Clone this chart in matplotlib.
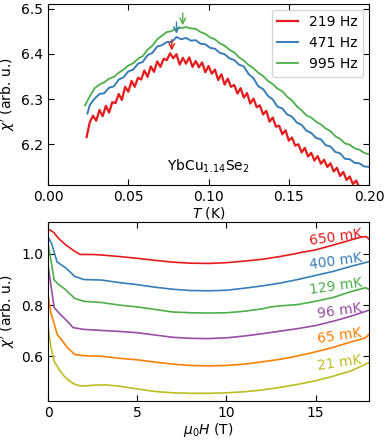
import matplotlib

matplotlib.use("Agg")
import matplotlib.pyplot as plt

# top panel: chi' vs T for three frequencies
t_red = [0.024, 0.026, 0.028, 0.030, 0.032, 0.034, 0.036, 0.038, 0.040, 0.042,
         0.044, 0.046, 0.048, 0.050, 0.052, 0.054, 0.056, 0.058, 0.060, 0.062,
         0.064, 0.066, 0.068, 0.070, 0.072, 0.074, 0.076, 0.078, 0.080, 0.082,
         0.084, 0.086, 0.088, 0.090, 0.092, 0.094, 0.096, 0.098, 0.100, 0.102,
         0.104, 0.106, 0.108, 0.110, 0.112, 0.114, 0.116, 0.118, 0.120, 0.122,
         0.124, 0.126, 0.128, 0.130, 0.132, 0.134, 0.136, 0.138, 0.140, 0.142,
         0.144, 0.146, 0.148, 0.150, 0.152, 0.154, 0.156, 0.158, 0.160, 0.162,
         0.164, 0.166, 0.168, 0.170, 0.172, 0.174, 0.176, 0.178, 0.180, 0.182,
         0.184, 0.186, 0.188, 0.190, 0.192, 0.194]
chi_219 = [6.216, 6.249, 6.263, 6.252, 6.276, 6.262, 6.285, 6.270, 6.293, 6.291,
           6.311, 6.298, 6.327, 6.316, 6.340, 6.327, 6.347, 6.343, 6.363, 6.349,
           6.372, 6.360, 6.383, 6.371, 6.389, 6.386, 6.401, 6.390, 6.399, 6.376,
           6.391, 6.378, 6.392, 6.371, 6.384, 6.370, 6.381, 6.359, 6.373, 6.356,
           6.365, 6.342, 6.355, 6.332, 6.345, 6.327, 6.331, 6.312, 6.324, 6.303,
           6.313, 6.290, 6.301, 6.282, 6.286, 6.266, 6.274, 6.250, 6.259, 6.239,
           6.241, 6.222, 6.231, 6.208, 6.215, 6.197, 6.200, 6.182, 6.192, 6.173,
           6.181, 6.164, 6.174, 6.157, 6.166, 6.150, 6.158, 6.140, 6.148, 6.130,
           6.139, 6.121, 6.129, 6.112, 6.120, 6.104]

t_blue = [0.0245, 0.026, 0.029, 0.032, 0.035, 0.038, 0.041, 0.044, 0.047, 0.050,
          0.053, 0.056, 0.059, 0.062, 0.065, 0.068, 0.071, 0.074, 0.077, 0.080,
          0.083, 0.086, 0.089, 0.092, 0.095, 0.098, 0.101, 0.104, 0.107, 0.110,
          0.113, 0.116, 0.119, 0.122, 0.125, 0.128, 0.131, 0.134, 0.137, 0.140,
          0.143, 0.146, 0.149, 0.152, 0.155, 0.158, 0.161, 0.164, 0.167, 0.170,
          0.173, 0.176, 0.179, 0.182, 0.185, 0.188, 0.191, 0.194, 0.197, 0.200]
chi_471 = [6.268, 6.287, 6.301, 6.311, 6.313, 6.325, 6.328, 6.343, 6.348, 6.361,
           6.365, 6.378, 6.382, 6.397, 6.402, 6.416, 6.419, 6.426, 6.426, 6.437,
           6.432, 6.435, 6.429, 6.430, 6.422, 6.421, 6.413, 6.411, 6.402, 6.399,
           6.390, 6.386, 6.376, 6.372, 6.355, 6.346, 6.328, 6.322, 6.307, 6.299,
           6.283, 6.279, 6.266, 6.261, 6.248, 6.243, 6.230, 6.225, 6.214, 6.211,
           6.198, 6.195, 6.183, 6.180, 6.168, 6.167, 6.159, 6.158, 6.151, 6.150]

t_green = [0.023, 0.026, 0.029, 0.032, 0.035, 0.038, 0.041, 0.044, 0.047, 0.050,
           0.053, 0.056, 0.059, 0.062, 0.065, 0.068, 0.071, 0.074, 0.077, 0.080,
           0.083, 0.086, 0.089, 0.092, 0.095, 0.098, 0.101, 0.104, 0.107, 0.110,
           0.113, 0.116, 0.119, 0.122, 0.125, 0.128, 0.131, 0.134, 0.137, 0.140,
           0.143, 0.146, 0.149, 0.152, 0.155, 0.158, 0.161, 0.164, 0.167, 0.170,
           0.173, 0.176, 0.179, 0.182, 0.185, 0.188, 0.191, 0.194, 0.197, 0.200]
chi_995 = [6.286, 6.306, 6.324, 6.332, 6.337, 6.345, 6.349, 6.358, 6.365, 6.374,
           6.379, 6.389, 6.395, 6.409, 6.418, 6.432, 6.440, 6.448, 6.450, 6.456,
           6.457, 6.459, 6.456, 6.455, 6.448, 6.444, 6.436, 6.432, 6.423, 6.418,
           6.409, 6.403, 6.392, 6.385, 6.375, 6.368, 6.358, 6.351, 6.340, 6.333,
           6.323, 6.317, 6.305, 6.297, 6.284, 6.275, 6.264, 6.259, 6.250, 6.244,
           6.235, 6.229, 6.218, 6.212, 6.202, 6.199, 6.191, 6.188, 6.181, 6.178]

freq_labels = ["219 Hz", "471 Hz", "995 Hz"]
top_colors = ["#e41a1c", "#377eb8", "#4daf4a"]
top_widths = [1.6, 1.4, 1.3]

# peak markers (T, arrow top, arrow tip)
peak_t = [0.0771, 0.0800, 0.0839]
peak_top = [6.431, 6.470, 6.490]
peak_tip = [6.407, 6.444, 6.463]

# bottom panel: chi' vs field for several temperatures
h_red = [0, 0.3, 0.6, 1, 1.5, 1.8, 2.5, 3, 4, 5, 6, 7, 8, 9, 10, 11, 12, 13, 13.8, 14.2, 15, 16, 17, 17.5, 17.85, 18]
chi_650 = [1.098, 1.085, 1.060, 1.035, 1.010, 0.998, 0.998, 0.996, 0.990, 0.983, 0.975, 0.968, 0.964, 0.963,
           0.966, 0.972, 0.979, 0.990, 1.000, 1.006, 1.016, 1.035, 1.055, 1.065, 1.068, 1.058]

h_blue = [0, 0.2, 0.5, 1, 1.5, 2, 3, 4, 5, 6, 7, 8, 9, 10, 11, 12, 13, 14, 15, 16, 17, 18]
chi_400 = [1.066, 1.040, 0.969, 0.945, 0.912, 0.900, 0.898, 0.888, 0.880, 0.870, 0.862, 0.857, 0.856,
           0.858, 0.866, 0.875, 0.886, 0.900, 0.916, 0.932, 0.952, 0.970]

h_green = [0, 0.1, 0.34, 0.6, 0.9, 1.2, 1.5, 2, 3, 4, 5, 6, 7, 8, 9, 10, 11, 12, 12.5, 13, 14, 15, 16, 17, 17.8, 18]
chi_129 = [1.040, 1.000, 0.898, 0.880, 0.865, 0.845, 0.826, 0.815, 0.810, 0.800, 0.793, 0.783, 0.773,
           0.770, 0.769, 0.770, 0.776, 0.785, 0.793, 0.797, 0.802, 0.815, 0.830, 0.853, 0.868, 0.862]

h_purple = [0, 0.15, 0.34, 0.6, 0.9, 1.2, 1.4, 2, 3, 4, 5, 6, 7, 8, 9, 10, 11, 12, 13, 14, 15, 16, 17, 18]
chi_96 = [0.956, 0.880, 0.790, 0.770, 0.749, 0.728, 0.712, 0.705, 0.701, 0.697, 0.692, 0.683, 0.674,
          0.670, 0.669, 0.672, 0.679, 0.688, 0.698, 0.708, 0.720, 0.737, 0.757, 0.780]

h_orange = [0, 0.15, 0.3, 0.52, 0.8, 1.1, 1.5, 2, 3, 4, 5, 6, 7, 8, 9, 10, 11, 12, 13, 14, 15, 16, 17, 17.8, 18]
chi_65 = [0.837, 0.770, 0.736, 0.684, 0.660, 0.632, 0.607, 0.602, 0.600, 0.592, 0.586, 0.577, 0.569,
          0.564, 0.562, 0.564, 0.569, 0.578, 0.588, 0.601, 0.617, 0.635, 0.656, 0.672, 0.685]

h_yellow = [0, 0.15, 0.34, 0.6, 0.9, 1.2, 1.5, 1.9, 2.6, 3.2, 4, 5, 6, 7, 8, 9, 10, 11, 12, 13, 14, 15, 16, 17, 18]
chi_21 = [0.710, 0.640, 0.580, 0.550, 0.522, 0.503, 0.490, 0.483, 0.487, 0.488, 0.483, 0.472, 0.462,
          0.457, 0.455, 0.455, 0.457, 0.461, 0.468, 0.478, 0.490, 0.504, 0.522, 0.543, 0.575]

temp_labels = ["650 mK", "400 mK", "129 mK", "96 mK", "65 mK", "21 mK"]
bottom_colors = ["#e41a1c", "#377eb8", "#4daf4a", "#984ea3", "#ff7f00", "#bcbd22"]
label_x = [16.13, 16.13, 16.13, 16.37, 16.35, 16.37]
label_y = [1.065, 0.970, 0.873, 0.776, 0.679, 0.573]


def _style(ax):
    ax.tick_params(direction="in", top=True, right=True, labelsize=10, length=4)
    ax.yaxis.set_label_coords(-0.097, 0.5)


fig = plt.figure(figsize=(3.88, 4.42), dpi=100)
ax1 = fig.add_axes([0.124, 0.5814, 0.827, 0.4096])
ax2 = fig.add_axes([0.124, 0.0928, 0.827, 0.4049])

top_series = [(t_red, chi_219), (t_blue, chi_471), (t_green, chi_995)]
for (t, chi), lab, c, w in zip(top_series, freq_labels, top_colors, top_widths):
    ax1.plot(t, chi, color=c, lw=w, label=lab)
for t, y0, y1, c in zip(peak_t, peak_top, peak_tip, top_colors):
    ax1.annotate("", xy=(t, y1), xytext=(t, y0),
                 arrowprops=dict(arrowstyle="->", color=c, lw=1.0, shrinkA=0, shrinkB=0))
ax1.set_xlim(0, 0.2)
ax1.set_ylim(6.11, 6.51)
ax1.set_xticks([0.0, 0.05, 0.1, 0.15, 0.2])
ax1.set_yticks([6.2, 6.3, 6.4, 6.5])
ax1.set_xlabel("$T$ (K)", fontsize=10, labelpad=1)
ax1.set_ylabel("$\\chi'$ (arb. u.)", fontsize=10)
ax1.text(0.0997, 6.151, "YbCu$_{1.14}$Se$_2$", fontsize=10, ha="center", va="center")
ax1.legend(loc="upper right", fontsize=10, borderaxespad=0.4, handlelength=1.5)
_style(ax1)

bottom_series = [(h_red, chi_650), (h_blue, chi_400), (h_green, chi_129),
                 (h_purple, chi_96), (h_orange, chi_65), (h_yellow, chi_21)]
for (h, chi), c in zip(bottom_series, bottom_colors):
    ax2.plot(h, chi, color=c, lw=1.2)
for lab, x, y, c in zip(temp_labels, label_x, label_y, bottom_colors):
    ax2.text(x, y, lab, color=c, fontsize=10, rotation=8, ha="center", va="center")
ax2.set_xlim(0, 18)
ax2.set_ylim(0.425, 1.125)
ax2.set_xticks([0, 5, 10, 15])
ax2.set_yticks([0.6, 0.8, 1.0])
ax2.set_xlabel("$\\mu_0H$ (T)", fontsize=10, labelpad=1)
ax2.set_ylabel("$\\chi'$ (arb. u.)", fontsize=10)
_style(ax2)

fig.savefig("out.png", dpi=100)
